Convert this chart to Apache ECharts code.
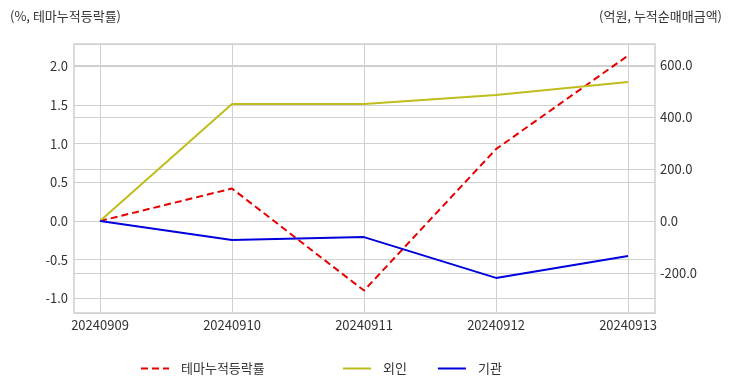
<!DOCTYPE html>
<html><head><meta charset="utf-8">
<script src="https://cdn.jsdelivr.net/npm/echarts@6/dist/echarts.min.js"></script>
<style>html,body{margin:0;padding:0;background:#fff}#c{width:732px;height:392px}</style>
</head><body><div id="c"></div>
<script>
const categories = ['20240909','20240910','20240911','20240912','20240913'];
const themeReturn = [0.0, 0.42, -0.90, 0.93, 2.14];
const foreign = [0.0, 450, 450, 485, 535];
const institution = [0.0, -73, -62, -219, -135];
const leftName = '(%, 테마누적등락률)';
const rightName = '(억원, 누적순매매금액)';
const leftRange = [-1.19, 2.29];
const rightRange = [-354, 681];

const font = "'Noto Sans CJK KR', 'Noto Sans', sans-serif";
const txt = '#333';
const fs = 13;
const chart = echarts.init(document.getElementById('c'));
const yBase = (range, pos, show) => ({
  type: 'value', position: pos, min: range[0], max: range[1],
  axisLine: {show: false}, axisTick: {show: false},
  axisLabel: {show: show, showMinLabel: false, showMaxLabel: false, margin: pos==='left'?6:5,
    color: txt, fontSize: fs, fontFamily: font, formatter: v => v.toFixed(1)},
  splitLine: {show: show, lineStyle: {color: '#d0d0d0', width: 1}}
});
const legendCommon = {top: 362, padding: 0, itemWidth: 28, itemHeight: 10, itemStyle: {opacity: 0},
  textStyle: {color: txt, fontSize: fs, fontFamily: font, padding: [0, 0, 0, 7]}};
chart.setOption({
  animation: false,
  textStyle: {fontFamily: font},
  title: [
    {text: leftName, left: 5, top: 5, textStyle: {fontSize: fs, fontWeight: 'normal', color: txt, fontFamily: font}},
    {text: rightName, right: 5, top: 5, textStyle: {fontSize: fs, fontWeight: 'normal', color: txt, fontFamily: font}}
  ],
  legend: [
    Object.assign({data: ['테마누적등락률'], left: 140}, legendCommon),
    Object.assign({data: ['외인', '기관'], left: 342, itemGap: 30}, legendCommon)
  ],
  grid: [
    {left: 74, right: 77, top: 44, bottom: 79, show: true, borderColor: '#cfcfcf', borderWidth: 1.5, backgroundColor: 'transparent'},
    {left: 100, right: 104, top: 44, bottom: 79}
  ],
  xAxis: [
    {type: 'category', gridIndex: 0, data: categories, show: false},
    {type: 'category', gridIndex: 1, data: categories, boundaryGap: false,
      axisLine: {show: false}, axisTick: {show: false},
      axisLabel: {color: txt, fontSize: fs, fontFamily: font, margin: 6},
      splitLine: {show: true, lineStyle: {color: '#d0d0d0', width: 1}}}
  ],
  yAxis: [
    Object.assign(yBase(leftRange, 'left', true), {gridIndex: 0}),
    Object.assign(yBase(rightRange, 'right', true), {gridIndex: 0}),
    Object.assign(yBase(leftRange, 'left', false), {gridIndex: 1}),
    Object.assign(yBase(rightRange, 'right', false), {gridIndex: 1})
  ],
  series: [
    {name: '테마누적등락률', type: 'line', xAxisIndex: 1, yAxisIndex: 2, data: themeReturn,
      symbol: 'none', lineStyle: {color: '#e60000', width: 2, type: [7, 4]}, itemStyle: {color: '#e60000'}},
    {name: '외인', type: 'line', xAxisIndex: 1, yAxisIndex: 3, data: foreign,
      symbol: 'none', lineStyle: {color: '#bfbd1c', width: 2}, itemStyle: {color: '#bfbd1c'}},
    {name: '기관', type: 'line', xAxisIndex: 1, yAxisIndex: 3, data: institution,
      symbol: 'none', lineStyle: {color: '#0000dd', width: 2}, itemStyle: {color: '#0000dd'}}
  ]
});
</script></body></html>
